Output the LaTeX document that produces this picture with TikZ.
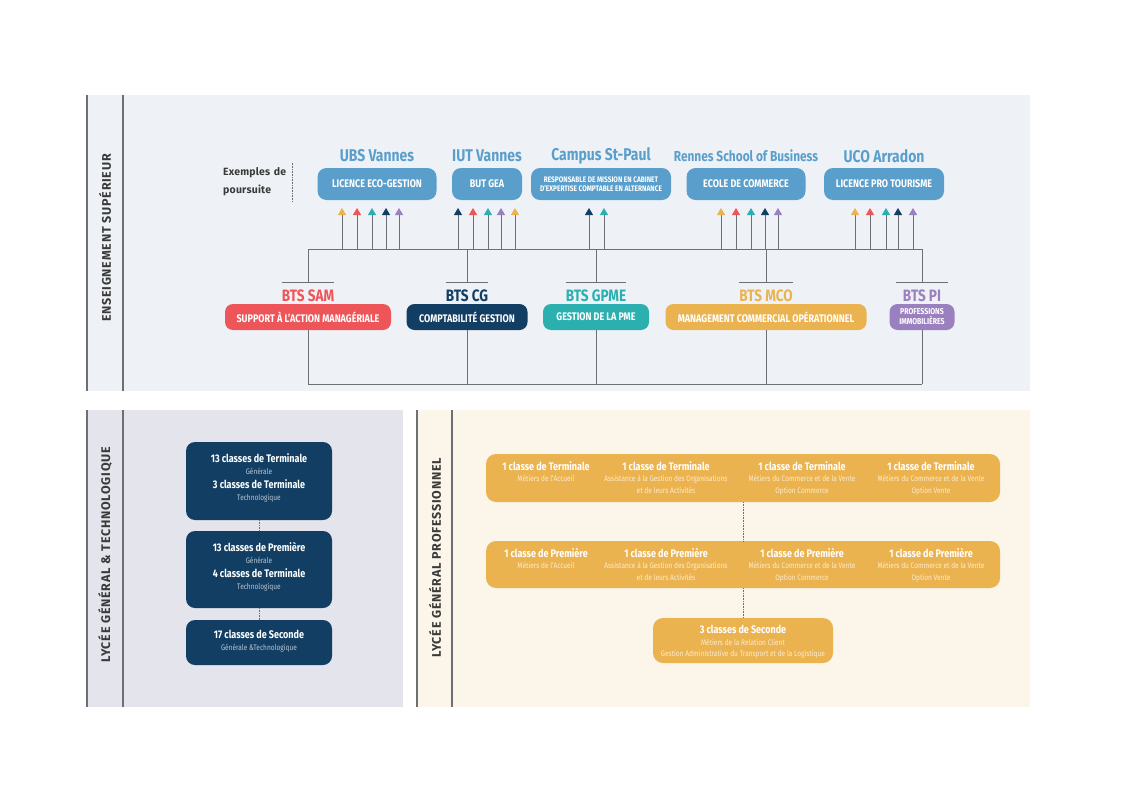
\documentclass[tikz,border=0pt]{standalone}
\usepackage{fontspec}
\setmainfont{Fira Sans}[FakeStretch=0.82]
\newfontfamily\sidefont{Fira Sans}[LetterSpace=6]
\newfontfamily\exfont{Fira Sans}[LetterSpace=2]
\usepackage{xcolor}
\usetikzlibrary{arrows.meta, positioning}

\definecolor{supbg}{HTML}{EEF2F7}
\definecolor{gtbg}{HTML}{E3E4EC}
\definecolor{probg}{HTML}{FBF5EA}
\definecolor{univblue}{HTML}{5A9FCC}
\definecolor{samred}{HTML}{EE5559}
\definecolor{cgnavy}{HTML}{123E63}
\definecolor{gpmeteal}{HTML}{2BB0AF}
\definecolor{mcoyellow}{HTML}{EBB34F}
\definecolor{pipurple}{HTML}{9B80BF}
\definecolor{darktext}{HTML}{3A3A3A}
\definecolor{linegrey}{HTML}{6E6F72}
\definecolor{navysub}{HTML}{B9C6D3}
\definecolor{orangesub}{HTML}{FCEBCB}

\newcommand{\gtsub}[1]{{\color{navysub}\mdseries\fontsize{8}{12}\selectfont #1}}
\newcommand{\prosub}[1]{{\color{orangesub}\mdseries\fontsize{8}{11.5}\selectfont #1}}

\tikzset{
    panelline/.style = {draw=linegrey, line width=1.5pt},
    busline/.style = {draw=linegrey, line width=1pt},
    upline/.style = {draw=linegrey, line width=1pt},
    dotline/.style = {draw=linegrey, line width=0.8pt, dash pattern=on 0.8pt off 0.8pt},
    sidenode/.style = {rotate=90, inner sep=0pt, text=darktext,
      font=\sidefont\bfseries\fontsize{12.5}{12.5}\selectfont},
    textnode/.style = {draw=none, fill=none, rectangle, inner sep=5pt, text=darktext,
      font=\exfont\bfseries\fontsize{10.5}{18}\selectfont},
    univnode/.style = {fill=univblue, rectangle, rounded corners=9pt, minimum height=32pt,
      inner sep=0pt, text=white, align=center, node distance=0em,
      font=\bfseries\fontsize{11}{12}\selectfont},
    univtitle/.style = {inner sep=0pt, text=univblue, node distance=0em,
      font=\bfseries\fontsize{17}{18}\selectfont},
    btsnode/.style = {rectangle, rounded corners=8pt, minimum height=26pt, inner sep=0pt,
      text=white, align=center, node distance=0em,
      font=\bfseries\fontsize{11}{12}\selectfont},
    btstitle/.style = {inner xsep=0pt, inner ysep=6pt, text height=12pt, text depth=0pt,
      node distance=0em, font=\bfseries\fontsize{16.5}{17}\selectfont},
    gtnode/.style = {fill=cgnavy, rectangle, rounded corners=9pt, minimum width=146pt},
    pronode/.style = {fill=mcoyellow, rectangle, rounded corners=10pt},
    gttext/.style = {anchor=north, inner sep=0pt, text=white, align=center,
      font=\bfseries\fontsize{11}{12}\selectfont},
    protext/.style = {anchor=north, inner sep=0pt, text=white, align=center,
      font=\bfseries\fontsize{11}{11.5}\selectfont}
}

\begin{document}
\begin{tikzpicture}[x=1pt, y=-1pt]
    \useasboundingbox (0,0) rectangle (1122,800);

    % panels
    \fill[supbg] (87,95) rectangle (1030,391);
    \fill[gtbg] (87,410) rectangle (403,707);
    \fill[probg] (417,410) rectangle (1030,707);
    \foreach \x in {87,123} \draw[panelline] (\x,95) -- (\x,391);
    \foreach \x in {87,123} \draw[panelline] (\x,410) -- (\x,707);
    \foreach \x in {417,452} \draw[panelline] (\x,410) -- (\x,707);

    \node [name=sup, sidenode] at (105,238) {ENSEIGNEMENT SUPÉRIEUR};
    \node [name=gt, sidenode] at (105,555) {LYCÉE GÉNÉRAL \& TECHNOLOGIQUE};
    \node [name=pro, sidenode] at (435,558) {LYCÉE GÉNÉRAL PROFESSIONNEL};

    \node [name=ex, textnode, anchor=west, text width=64pt, align=left] at (218,182) {Exemples de\\poursuite};
    \draw[dotline] (ex.north east) -- (ex.south east);

    % poursuites
    \node [name=ubs, univnode, minimum width=119pt] at (377,184) {LICENCE ECO-GESTION};
    \node [name=iut, univnode, minimum width=70pt] at (487,184) {BUT GEA};
    \node [name=stpaul, univnode, minimum width=140pt, font=\bfseries\fontsize{8}{9.5}\selectfont]
        at (601,184) {RESPONSABLE DE MISSION EN CABINET\\D'EXPERTISE COMPTABLE EN ALTERNANCE};
    \node [name=rsb, univnode, minimum width=119pt] at (746,184) {ECOLE DE COMMERCE};
    \node [name=uco, univnode, minimum width=120pt] at (884,184) {LICENCE PRO TOURISME};

    \node [name=ubst, univtitle, above of=ubs, yshift=28pt] {UBS Vannes};
    \node [name=iutt, univtitle, above of=iut, yshift=28pt] {IUT Vannes};
    \node [name=stpault, univtitle, above of=stpaul, yshift=28pt] {Campus St-Paul};
    \node [name=rsbt, univtitle, above of=rsb, yshift=28pt, font=\bfseries\fontsize{14.5}{15}\selectfont] {Rennes School of Business};
    \node [name=ucot, univtitle, above of=uco, yshift=28pt] {UCO Arradon};

    % BTS
    \node [name=sam, btsnode, fill=samred, minimum width=166pt] at (308,317) {SUPPORT À L'ACTION MANAGÉRIALE};
    \node [name=cg, btsnode, fill=cgnavy, minimum width=121pt] at (467,317) {COMPTABILITÉ GESTION};
    \node [name=gpme, btsnode, fill=gpmeteal, minimum width=106pt] at (596,317) {GESTION DE LA PME};
    \node [name=mco, btsnode, fill=mcoyellow, minimum width=201pt] at (766,317) {MANAGEMENT COMMERCIAL OPÉRATIONNEL};
    \node [name=pi, btsnode, fill=pipurple, minimum width=65pt, font=\bfseries\fontsize{8.5}{10}\selectfont]
        at (922,317) {PROFESSIONS\\IMMOBILIÈRES};

    \node [name=samt, btstitle, text=samred, minimum width=50pt, above of=sam, yshift=22pt] {BTS SAM};
    \node [name=cgt, btstitle, text=cgnavy, minimum width=40pt, above of=cg, yshift=22pt] {BTS CG};
    \node [name=gpmet, btstitle, text=gpmeteal, minimum width=59pt, above of=gpme, yshift=22pt] {BTS GPME};
    \node [name=mcot, btstitle, text=mcoyellow, minimum width=52pt, above of=mco, yshift=22pt] {BTS MCO};
    \node [name=pit, btstitle, text=pipurple, minimum width=51pt, above of=pi, yshift=22pt] {BTS PI};

    \coordinate (busl) at (308,249);
    \coordinate (busr) at (922,249);
    \coordinate (botl) at (308,384);
    \coordinate (botr) at (922,384);
    \draw[busline] (busl) -- (busr);
    \draw[busline] (botl) -- (botr);
    \foreach \t in {samt,cgt,gpmet,mcot,pit} {
        \draw[busline] (\t.north west) -- (\t.north east);
        \draw[busline] (\t.north) -- (\t.north |- busl);
    }
    \foreach \b in {sam,cg,gpme,mco,pi}
        \draw[busline] (\b.south) -- (\b.south |- botl);

    \foreach \x/\c in {342/mcoyellow, 357/samred, 372/gpmeteal, 386/cgnavy, 399/pipurple,
        458/cgnavy, 473/samred, 488/gpmeteal, 501/pipurple, 515/mcoyellow,
        589/cgnavy, 604/gpmeteal,
        721/mcoyellow, 736/samred, 751/gpmeteal, 765/cgnavy, 778/pipurple,
        855/mcoyellow, 870/samred, 886/gpmeteal, 898/cgnavy, 913/pipurple} {
        \coordinate (foot\x) at (\x,249);
        \coordinate (tip\x) at (\x,208);
        \draw[upline, -{Triangle[width=8pt, length=7pt, color=\c]}] (foot\x) -- (tip\x);
    }

    % lycee general et technologique
    \node [name=gt1, gtnode, minimum height=78pt] at (259,481) {};
    \node [name=gt2, gtnode, minimum height=77pt] at (259,569.5) {};
    \node [name=gt3, gtnode, minimum height=45pt] at (259,642.5) {};
    \draw (gt1) edge[dotline] (gt2);
    \draw (gt2) edge[dotline] (gt3);

    \node [name=gt1text, gttext] at (259,453) {13 classes de Terminale\\\gtsub{Générale}\\[2pt]3 classes de Terminale\\\gtsub{Technologique}};
    \node [name=gt2text, gttext] at (259,542) {13 classes de Première\\\gtsub{Générale}\\[2pt]4 classes de Terminale\\\gtsub{Technologique}};
    \node [name=gt3text, gttext] at (259,630) {17 classes de Seconde\\\gtsub{Générale \&Technologique}};

    % lycee professionnel
    \node [name=pro1, pronode, minimum width=514pt, minimum height=48pt] at (743,478) {};
    \node [name=pro2, pronode, minimum width=514pt, minimum height=47pt] at (743,564.5) {};
    \node [name=sec, pronode, minimum width=180pt, minimum height=45pt] at (743,640.5) {};
    \draw (pro1) edge[dotline] (pro2);
    \draw (pro2) edge[dotline] (sec);

    \node [name=t1, protext] at (546,461) {1 classe de Terminale\\\prosub{Métiers de l'Accueil}};
    \node [name=t2, protext] at (666,461) {1 classe de Terminale\\\prosub{Assistance à la Gestion des Organisations}\\\prosub{et de leurs Activités}};
    \node [name=t3, protext] at (802,461) {1 classe de Terminale\\\prosub{Métiers du Commerce et de la Vente}\\\prosub{Option Commerce}};
    \node [name=t4, protext] at (931,461) {1 classe de Terminale\\\prosub{Métiers du Commerce et de la Vente}\\\prosub{Option Vente}};

    \node [name=p1, protext] at (546,548) {1 classe de Première\\\prosub{Métiers de l'Accueil}};
    \node [name=p2, protext] at (666,548) {1 classe de Première\\\prosub{Assistance à la Gestion des Organisations}\\\prosub{et de leurs Activités}};
    \node [name=p3, protext] at (802,548) {1 classe de Première\\\prosub{Métiers du Commerce et de la Vente}\\\prosub{Option Commerce}};
    \node [name=p4, protext] at (931,548) {1 classe de Première\\\prosub{Métiers du Commerce et de la Vente}\\\prosub{Option Vente}};

    \node [name=sectext, protext] at (743,625) {3 classes de Seconde\\\prosub{Métiers de la Relation Client}\\\prosub{Gestion Administrative du Transport et de la Logistique}};
\end{tikzpicture}
\end{document}
